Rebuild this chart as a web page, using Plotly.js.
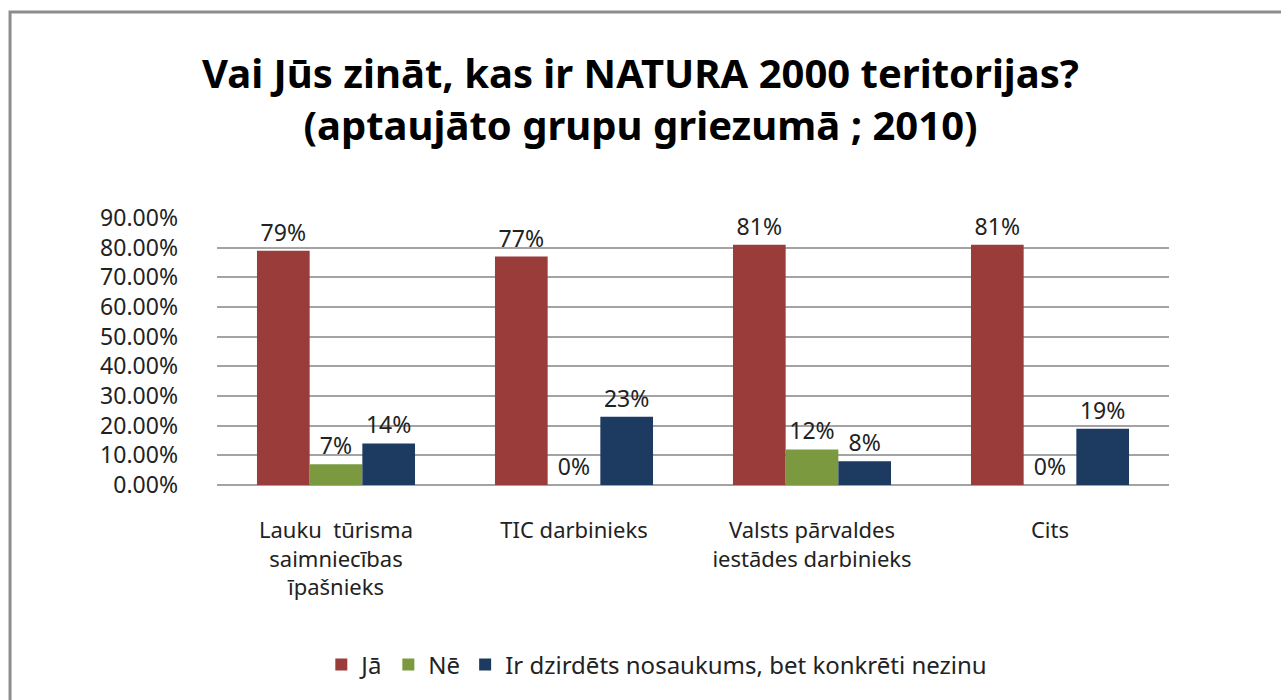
<!DOCTYPE html>
<html>
<head>
<meta charset="utf-8">
<script src="https://cdn.plot.ly/plotly-3.0.1.min.js"></script>
<style>html,body{margin:0;padding:0;background:#fff;}#chart{width:1281px;height:700px;}</style>
</head>
<body>
<div id="chart"></div>
<script>
const categories = [
  "Lauku  tūrisma<br>saimniecības<br>īpašnieks",
  "TIC darbinieks",
  "Valsts pārvaldes<br>iestādes darbinieks",
  "Cits"
];
const seriesNames = ["Jā", "Nē", "Ir dzirdēts nosaukums, bet konkrēti nezinu"];
const valuesJa = [0.79, 0.77, 0.81, 0.81];
const valuesNe = [0.07, 0.00, 0.12, 0.00];
const valuesDzirdets = [0.14, 0.23, 0.08, 0.19];
const yTicks = [0, 0.1, 0.2, 0.3, 0.4, 0.5, 0.6, 0.7, 0.8, 0.9];
const colors = ["#993c3a", "#7b9a3f", "#1d3b61"];

const FONT = "Noto Sans, Open Sans, sans-serif";
const allValues = [valuesJa, valuesNe, valuesDzirdets];
const traces = allValues.map((vals, i) => ({
  type: "bar",
  name: seriesNames[i],
  x: categories,
  y: vals,
  marker: {color: colors[i]},
  texttemplate: "%{y:.0%}",
  textposition: "outside",
  textfont: {family: FONT, size: 23, color: "#222"},
  cliponaxis: false,
  hoverinfo: "x+y+name"
}));

const layout = {
  width: 1281, height: 700,
  paper_bgcolor: "#fff", plot_bgcolor: "#fff",
  margin: {l: 217, r: 112, t: 218, b: 215},
  font: {family: FONT, color: "#222"},
  title: {
    text: "Vai Jūs zināt, kas ir NATURA 2000 teritorijas?<br>(aptaujāto grupu griezumā ; 2010)",
    font: {family: FONT, size: 40, color: "#000", weight: "bold"},
    x: 0.5, xref: "container", xanchor: "center",
    y: 0.875, yref: "container", yanchor: "middle"
  },
  barmode: "group",
  bargap: 0.336,
  bargroupgap: 0,
  xaxis: {
    type: "category",
    tickfont: {family: FONT, size: 22, color: "#222"},
    showgrid: false, showline: false, ticks: "",
    ticklabelstandoff: 30
  },
  yaxis: {
    range: [0, 0.9],
    tickvals: yTicks,
    tickformat: ".2%",
    tickfont: {family: FONT, size: 23, color: "#222"},
    showgrid: true, gridcolor: "#a3a3a3", gridwidth: 2,
    zeroline: true, zerolinecolor: "#a3a3a3", zerolinewidth: 2,
    showline: false, ticks: "",
    ticklabelstandoff: 38,
    fixedrange: true
  },
  legend: {
    orientation: "h",
    x: 0.462, xanchor: "center",
    y: -0.674, yanchor: "middle",
    font: {family: FONT, size: 24, color: "#222"},
    itemwidth: 30
  },
  shapes: [{
    type: "rect", xref: "paper", yref: "paper",
    x0: -0.2174, y0: 1.7715, x1: 1.5, y1: -1.5,
    line: {color: "#8c8c8c", width: 3}, fillcolor: "rgba(0,0,0,0)", layer: "below"
  }]
};

Plotly.newPlot("chart", traces, layout, {displayModeBar: false, responsive: false});
</script>
</body>
</html>
